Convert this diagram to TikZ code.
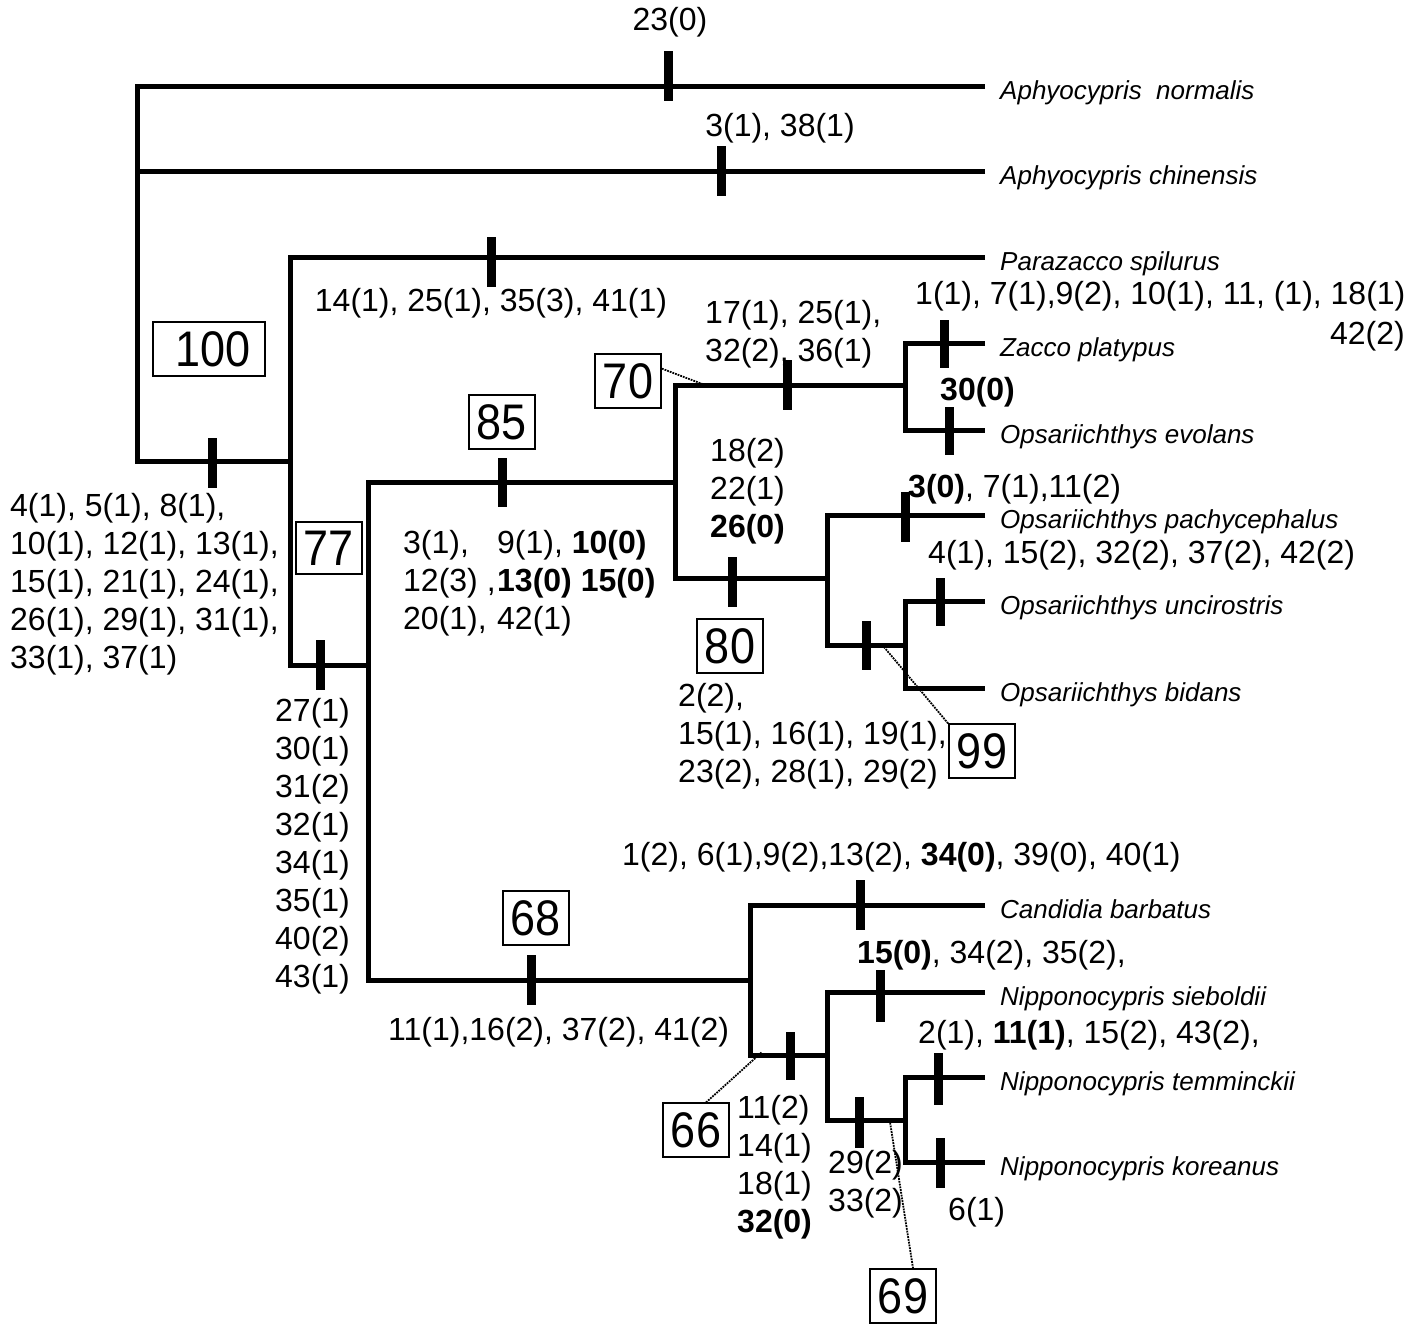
\documentclass[tikz,border=0pt]{standalone}
\usepackage{fontspec}
\setmainfont{Liberation Sans}
\newfontfamily\bootfont[FakeStretch=0.9]{Liberation Sans}

\begin{document}
\begin{tikzpicture}[x=1pt, y=-1pt, line join=miter,
    branch/.style={line width=5pt},
    charbar/.style={line width=9pt},
    taxon/.style={anchor=west, inner xsep=15pt, inner ysep=0pt, text height=26pt, text depth=0pt, font=\fontsize{26}{30}\selectfont\itshape},
    chr/.style={inner sep=0pt, align=left, font=\fontsize{32}{38}\selectfont},
    bsup/.style={draw, line width=1.8pt, inner xsep=8pt, inner ysep=9pt, font=\bootfont\fontsize{50}{50}\selectfont},
    leader/.style={line width=1.8pt, densely dotted}]
  \useasboundingbox (0,0) rectangle (1424,1325);

  \node[taxon] (anor) at (985,86) {Aphyocypris\ \ normalis};
  \node[taxon] (achi) at (985,171) {Aphyocypris chinensis};
  \node[taxon] (pspi) at (985,257) {Parazacco spilurus};
  \node[taxon] (zpla) at (985,343) {Zacco platypus};
  \node[taxon] (oevo) at (985,430) {Opsariichthys evolans};
  \node[taxon] (opac) at (985,515) {Opsariichthys pachycephalus};
  \node[taxon] (ounc) at (985,601) {Opsariichthys uncirostris};
  \node[taxon] (obid) at (985,688) {Opsariichthys bidans};
  \node[taxon] (cbar) at (985,905) {Candidia barbatus};
  \node[taxon] (nsie) at (985,992) {Nipponocypris sieboldii};
  \node[taxon] (ntem) at (985,1077) {Nipponocypris temminckii};
  \node[taxon] (nkor) at (985,1162) {Nipponocypris koreanus};

  \coordinate (r) at (137,461);
  \coordinate (n1) at (290,461);
  \coordinate (n77) at (368,665);
  \coordinate (n85) at (675,482);
  \coordinate (n70) at (905,385);
  \coordinate (n80) at (827,578);
  \coordinate (n99) at (905,645);
  \coordinate (n68) at (750,980);
  \coordinate (n66) at (827,1055);
  \coordinate (n69) at (905,1120);

  \draw[branch] (anor.west) -| (r) -- (n1);
  \draw[branch] (achi.west) -- (achi.west -| r);
  \draw[branch] (pspi.west) -| (n1) |- (n77);
  \draw[branch] (n85) -| (n77) |- (n68);
  \draw[branch] (n70) -| (n85) |- (n80);
  \draw[branch] (zpla.west) -| (n70) |- (oevo.west);
  \draw[branch] (opac.west) -| (n80) |- (n99);
  \draw[branch] (ounc.west) -| (n99) |- (obid.west);
  \draw[branch] (cbar.west) -| (n68) |- (n66);
  \draw[branch] (nsie.west) -| (n66) |- (n69);
  \draw[branch] (ntem.west) -| (n69) |- (nkor.west);

  \foreach \x/\ya/\yb in {668/51/101, 721/146/196, 491/237/287, 212/438/488,
      320/640/690, 502/458/507, 787/360/410, 944/320/368, 949/407/455,
      732/557/607, 905/492/542, 940/578/626, 866/621/670, 531/955/1005,
      860/880/930, 790/1032/1080, 880/970/1022, 859/1097/1148,
      938/1053/1105, 940/1138/1188}
    \draw[charbar] (\x,\ya) -- (\x,\yb);

  \node[bsup, minimum width=112pt] (b100) at (209,349) {\hspace{8pt}100};
  \node[bsup] (b77) at (329,548) {77};
  \node[bsup] (b85) at (502,422) {85};
  \node[bsup] (b70) at (628,381) {70};
  \node[bsup] (b80) at (730,646) {80};
  \node[bsup] (b99) at (982,751) {99};
  \node[bsup] (b68) at (536,918) {68};
  \node[bsup] (b66) at (696,1130) {66};
  \node[bsup] (b69) at (903,1296) {69};

  \coordinate (p70) at (705,385);
  \coordinate (p99) at (884,647);
  \coordinate (p66) at (762,1052);
  \coordinate (p69) at (890,1122);
  \draw[leader] (b70.20) -- (p70);
  \draw[leader] (b99.north west) -- (p99);
  \draw[leader] (b66.70) -- (p66);
  \draw[leader] (b69.70) -- (p69);

  \node[chr] (c-anor) at (670,22) {23(0)};
  \node[chr] (c-achi) at (780,128) {3(1), 38(1)};
  \node[chr] (c-pspi) at (491,303) {14(1), 25(1), 35(3), 41(1)};
  \node[chr, anchor=north west] (c-root) at (10,493) {4(1), 5(1), 8(1),\\10(1), 12(1), 13(1),\\15(1), 21(1), 24(1),\\26(1), 29(1), 31(1),\\33(1), 37(1)};
  \node[chr, anchor=north west] (c-77) at (275,698) {27(1)\\30(1)\\31(2)\\32(1)\\34(1)\\35(1)\\40(2)\\43(1)};
  \node[chr, anchor=north west] (c-85) at (403,530) {\makebox[94pt][l]{3(1),}9(1), \textbf{10(0)}\\\makebox[94pt][l]{12(3) ,}\textbf{13(0) 15(0)}\\\makebox[94pt][l]{20(1),}42(1)};
  \node[chr, anchor=north west] (c-70) at (705,300) {17(1), 25(1),\\32(2), 36(1)};
  \node[chr, anchor=west] (c-zpla) at (915,296) {1(1), 7(1),9(2), 10(1), 11, (1), 18(1)};
  \node[chr, anchor=east] (c-zpla2) at (1405,336) {42(2)};
  \node[chr, anchor=west] (c-oevo) at (940,392) {\textbf{30(0)}};
  \node[chr, anchor=north west] (c-80a) at (710,438) {18(2)\\22(1)\\\textbf{26(0)}};
  \node[chr, anchor=north west] (c-80b) at (678,683) {2(2),\\15(1), 16(1), 19(1),\\23(2), 28(1), 29(2)};
  \node[chr, anchor=west] (c-opac) at (908,489) {\textbf{3(0)}, 7(1),11(2)};
  \node[chr, anchor=west] (c-ounc) at (928,555) {4(1), 15(2), 32(2), 37(2), 42(2)};
  \node[chr, anchor=west] (c-cbar) at (622,857) {1(2), 6(1),9(2),13(2), \textbf{34(0)}, 39(0), 40(1)};
  \node[chr, anchor=west] (c-68) at (388,1032) {11(1),16(2), 37(2), 41(2)};
  \node[chr, anchor=west] (c-nsie) at (857,955) {\textbf{15(0)}, 34(2), 35(2),};
  \node[chr, anchor=west] (c-ntem) at (918,1035) {2(1), \textbf{11(1)}, 15(2), 43(2),};
  \node[chr, anchor=north west] (c-66) at (737,1095) {11(2)\\14(1)\\18(1)\\\textbf{32(0)}};
  \node[chr, anchor=north west] (c-69) at (828,1150) {29(2)\\33(2)};
  \node[chr, anchor=west] (c-nkor) at (948,1212) {6(1)};
\end{tikzpicture}
\end{document}
